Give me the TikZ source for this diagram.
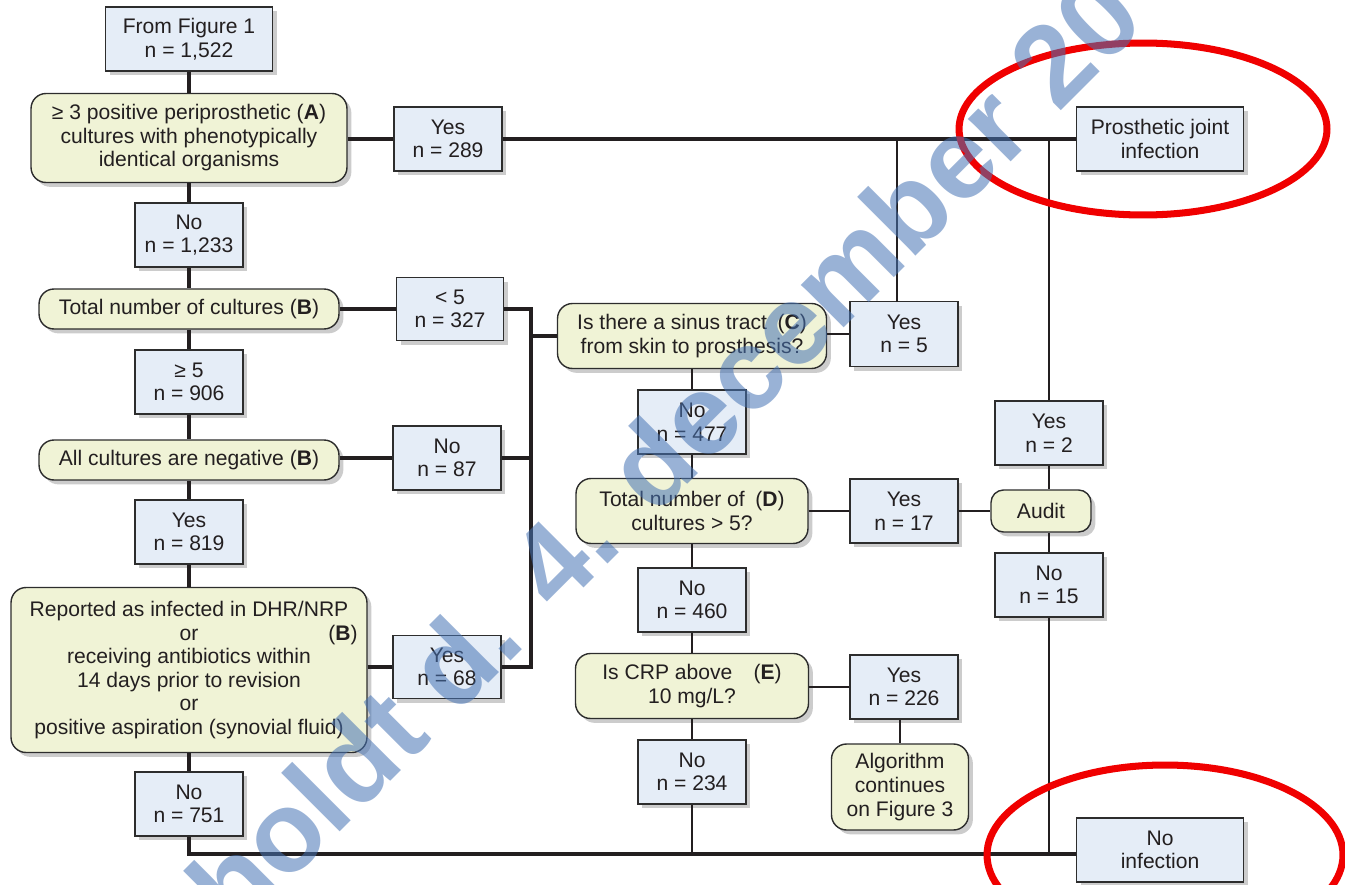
\documentclass[tikz,border=0pt]{standalone}
\usepackage{fontspec}
\setmainfont{Liberation Sans}
\usetikzlibrary{shadows}
\definecolor{boxfill}{RGB}{229,237,247}
\definecolor{qfill}{RGB}{240,243,214}
\definecolor{edge}{RGB}{45,45,45}
\definecolor{ink}{RGB}{35,31,32}
\definecolor{stampblue}{RGB}{70,115,180}
\definecolor{markred}{RGB}{240,0,0}
\newcommand\pxu{0.2mm}

\begin{document}
\begin{tikzpicture}[x=0.02cm,y=-0.02cm,
  every node/.style={font=\fontsize{12}{13.4}\selectfont, text=ink, align=center, inner sep=0pt},
  sz/.style 2 args={minimum width=#1*\pxu, minimum height=#2*\pxu},
  outcome/.style={draw=edge, line width=0.8pt, fill=boxfill,
    drop shadow={shadow xshift=2.5pt, shadow yshift=-2.5pt, opacity=0.4}},
  query/.style={outcome, fill=qfill, rounded corners=3mm},
  link/.style={draw=ink, line width=2.1pt},
  thinlink/.style={draw=ink, line width=1.5pt},
]
\useasboundingbox (0,0) rectangle (1345,885);
\clip (0,0) rectangle (1345,885);

% ---- left column ----
\node[outcome, sz={167}{64}] (fig1) at (189,39) {From Figure 1\\n = 1,522};
\node[query, sz={316}{89}] (qA) at (189,138) {≥ 3 positive periprosthetic (\textbf{A})\\cultures with phenotypically\\identical organisms};
\node[outcome, sz={108}{64}] (no1233) at (189,235) {No\\n = 1,233};
\node[query, sz={300}{40}] (qB1) at (189,309) {Total number of cultures (\textbf{B})};
\node[outcome, sz={108}{64}] (ge5) at (189,382) {≥ 5\\n = 906};
\node[query, sz={300}{40}] (qB2) at (189,460) {All cultures are negative (\textbf{B})};
\node[outcome, sz={108}{64}] (yes819) at (189,532) {Yes\\n = 819};
\node[query, sz={356}{165}] (qB3) at (189,670) {Reported as infected in DHR/NRP\\or\rlap{\hspace{26mm}(\textbf{B})}\\receiving antibiotics within\\14 days prior to revision\\or\\positive aspiration (synovial fluid)};
\node[outcome, sz={108}{64}] (no751) at (189,804) {No\\n = 751};

% ---- branch answers ----
\node[outcome, sz={108}{64}] (yes289) at (448,139) {Yes\\n = 289};
\node[outcome, sz={107}{63}] (lt5) at (450,309) {< 5\\n = 327};
\node[outcome, sz={108}{64}] (no87) at (447,458) {No\\n = 87};
\node[outcome, sz={108}{63}] (yes68) at (447,667) {Yes\\n = 68};

% ---- middle column ----
\node[query, sz={269}{65}] (qC) at (692,336) {Is there a sinus tract\enspace(\textbf{C})\\from skin to prosthesis?};
\node[outcome, sz={108}{64}] (no477) at (692,422) {No\\n = 477};
\node[query, sz={232}{65}] (qD) at (692,511) {Total number of\enspace(\textbf{D})\\cultures > 5?};
\node[outcome, sz={108}{64}] (no460) at (692,600) {No\\n = 460};
\node[query, sz={233}{65}] (qE) at (692,686) {Is CRP above\quad(\textbf{E})\\10 mg/L?};
\node[outcome, sz={108}{64}] (no234) at (692,772) {No\\n = 234};

\node[outcome, sz={108}{65}] (yes5) at (904,334) {Yes\\n = 5};
\node[outcome, sz={108}{64}] (yes17) at (904,511) {Yes\\n = 17};
\node[outcome, sz={108}{64}] (yes226) at (904,687) {Yes\\n = 226};
\node[query, sz={137}{86}] (algo) at (900,787) {Algorithm\\continues\\on Figure 3};

% ---- audit column ----
\node[outcome, sz={108}{64}] (yes2) at (1049,433) {Yes\\n = 2};
\node[query, sz={100}{42}, rounded corners=2.5mm] (audit) at (1041,511) {Audit};
\node[outcome, sz={108}{64}] (no15) at (1049,585) {No\\n = 15};

% ---- outcomes ----
\node[outcome, sz={167}{64}] (pji) at (1160,139) {Prosthetic joint\\infection};
\node[outcome, sz={167}{64}] (noinf) at (1160,850) {No\\infection};

% ---- junction points ----
\coordinate (busTop) at (531,309);
\coordinate (busMid) at (531,458);
\coordinate (busBot) at (531,667);
\coordinate (busC) at (531,336);
\coordinate (yes5up) at (897,139);
\coordinate (yes5base) at (897,302);
\coordinate (auditUp) at (1049,139);
\coordinate (auditDown) at (1049,854);
\coordinate (floorL) at (189,854);
\coordinate (floorM) at (692,854);

% ---- connectors ----
\draw[link] (fig1.south) -- (qA.north)
            (qA.south) -- (no1233.north)
            (no1233.south) -- (qB1.north)
            (qB1.south) -- (ge5.north)
            (ge5.south) -- (qB2.north)
            (qB2.south) -- (yes819.north)
            (yes819.south) -- (qB3.north)
            (qB3.south) -- (no751.north);
\draw[link] (qA.east |- yes289) -- (yes289.west)
            (yes289.east) -- (pji.west);
\draw[link] (qB1.east) -- (lt5.west)
            (qB2.east |- no87) -- (no87.west)
            (qB3.east |- yes68) -- (yes68.west);
\draw[link] (lt5.east) -- (busTop) -- (busBot) -- (yes68.east)
            (no87.east) -- (busMid)
            (busC) -- (qC.west);
\draw[link] (no751.south) -- (floorL) -- (noinf.west |- floorL);
\draw[thinlink] (qC.east |- yes5) -- (yes5.west);
\draw[thinlink] (yes5base) -- (yes5up);
\draw[thinlink] (qC.south) -- (no477.north)
                (no477.south) -- (qD.north)
                (qD.south) -- (no460.north)
                (no460.south) -- (qE.north)
                (qE.south) -- (no234.north)
                (no234.south) -- (floorM);
\draw[thinlink] (qD.east) -- (yes17.west)
                (yes17.east) -- (audit.west);
\draw[thinlink] (qE.east |- yes226) -- (yes226.west);
\draw[thinlink] (yes226.south -| algo.north) -- (algo.north);
\draw[thinlink] (yes2.north) -- (auditUp)
                (yes2.south) -- (audit.north -| yes2.south)
                (audit.south -| no15.north) -- (no15.north)
                (no15.south) -- (auditDown);

% ---- red rings ----
\draw[markred, line width=4pt] (1143,129) ellipse [x radius=36.8mm, y radius=17.2mm];
\draw[markred, line width=4pt] (1165,855) ellipse [x radius=35.6mm, y radius=18mm];

% ---- diagonal stamp ----
\node[font=\bfseries\fontsize{65}{65}\selectfont, text=stampblue, text opacity=0.55,
      rotate=45, anchor=base west, inner sep=0pt] (stamp) at (236,936) {holdt d. 4. december 20};
\end{tikzpicture}
\end{document}
